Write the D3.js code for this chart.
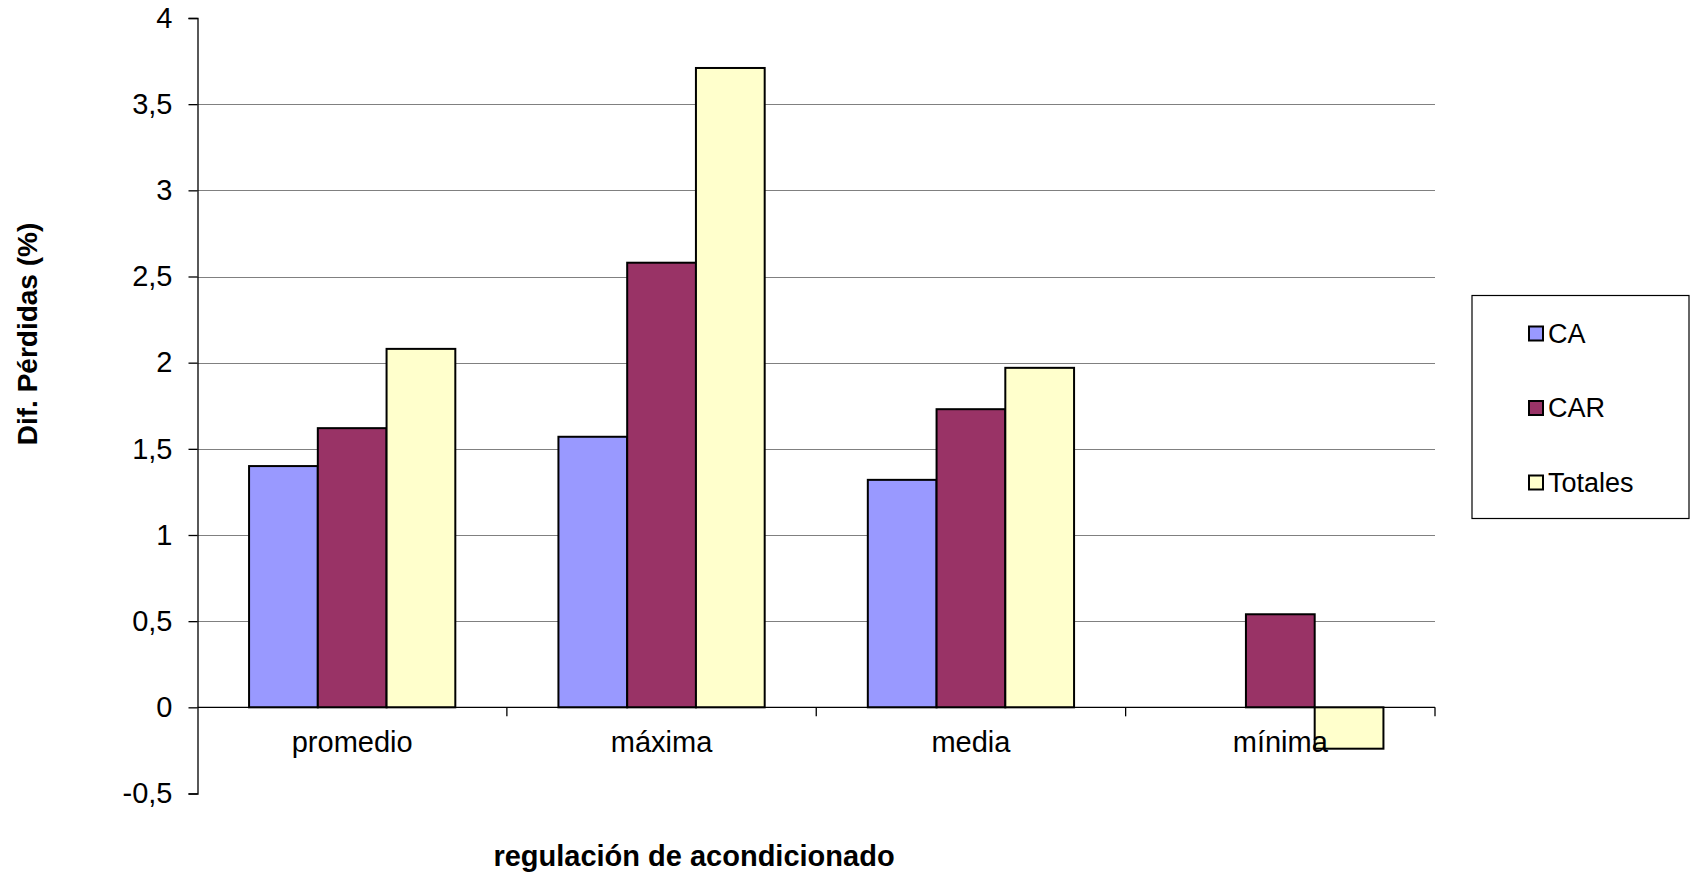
<!DOCTYPE html>
<html>
<head>
<meta charset="utf-8">
<script src="https://cdn.jsdelivr.net/npm/d3@7"></script>
<style>
  html, body { margin: 0; padding: 0; background: #fff; }
  svg { display: block; font-family: "Liberation Sans", Arial, sans-serif; }
</style>
</head>
<body>
<svg id="chart" width="1694" height="873"></svg>
<script>
const categories = ["promedio", "máxima", "media", "mínima"];
const seriesNames = ["CA", "CAR", "Totales"];
const valuesCA = [1.40, 1.57, 1.32, null];
const valuesCAR = [1.62, 2.58, 1.73, 0.54];
const valuesTotales = [2.08, 3.71, 1.97, -0.24];
const yTicks = [-0.5, 0, 0.5, 1, 1.5, 2, 2.5, 3, 3.5, 4];
const yTitle = "Dif. Pérdidas (%)";
const xTitle = "regulación de acondicionado";

(function () {
const seriesValues = [valuesCA, valuesCAR, valuesTotales];
const colors = ["#9999FF", "#993366", "#FFFFCC"];

const svg = d3.select("#chart");
const plotLeft = 197.5, plotRight = 1435, plotTop = 18, plotBottom = 793.5;

const x = d3.scaleBand().domain(categories).range([plotLeft, plotRight]).paddingInner(0).paddingOuter(0);
const xs = d3.scaleBand().domain(seriesNames).range([0, x.bandwidth()]).paddingInner(0).paddingOuter(0.75);
const y = d3.scaleLinear().domain([-0.5, 4]).range([plotBottom, plotTop]);
const fmt = d => String(d).replace(".", ",");

// gridlines
svg.append("g").selectAll("line")
  .data(yTicks.filter(t => t > 0 && t < 4))
  .join("line")
  .attr("x1", plotLeft).attr("x2", plotRight)
  .attr("y1", d => Math.round(y(d)) + 0.5).attr("y2", d => Math.round(y(d)) + 0.5)
  .attr("stroke", "#808080").attr("stroke-width", 1.2);

// bars
const data = [];
categories.forEach((c, i) => {
  seriesNames.forEach((s, j) => {
    const v = seriesValues[j][i];
    if (v !== null && v !== undefined) data.push({ c, s, v, color: colors[j] });
  });
});
svg.append("g").selectAll("rect")
  .data(data)
  .join("rect")
  .attr("x", d => x(d.c) + xs(d.s))
  .attr("width", xs.bandwidth())
  .attr("y", d => y(Math.max(0, d.v)))
  .attr("height", d => Math.abs(y(d.v) - y(0)))
  .attr("fill", d => d.color)
  .attr("stroke", "#000")
  .attr("stroke-width", 2);

// y axis
const yAxis = d3.axisLeft(y).tickValues(yTicks).tickFormat(fmt).tickSize(9).tickPadding(16);
const gy = svg.append("g").attr("transform", `translate(${plotLeft},0)`).call(yAxis);
gy.select(".domain").attr("stroke", "#000").attr("stroke-width", 1.3);
gy.selectAll(".tick line").attr("stroke", "#000").attr("stroke-width", 1.3);
gy.selectAll(".tick text").attr("font-size", 29).attr("fill", "#000")
  .attr("font-family", "Liberation Sans, Arial, sans-serif");

// x axis at zero
const gx = svg.append("g").attr("transform", `translate(0,${y(0)})`);
gx.append("line").attr("x1", plotLeft).attr("x2", plotRight).attr("y1", 0).attr("y2", 0)
  .attr("stroke", "#000").attr("stroke-width", 1.3);
gx.selectAll("line.tk")
  .data(categories)
  .join("line").attr("class", "tk")
  .attr("x1", d => x(d) + x.bandwidth()).attr("x2", d => x(d) + x.bandwidth())
  .attr("y1", 0).attr("y2", 9)
  .attr("stroke", "#000").attr("stroke-width", 1.3);
gx.selectAll("text")
  .data(categories)
  .join("text")
  .attr("x", d => x(d) + x.bandwidth() / 2)
  .attr("y", 45)
  .attr("text-anchor", "middle")
  .attr("font-size", 29)
  .attr("fill", "#000")
  .text(d => d);

// axis titles
svg.append("text")
  .attr("transform", "translate(37,334) rotate(-90)")
  .attr("text-anchor", "middle")
  .attr("font-size", 28).attr("font-weight", "bold")
  .text(yTitle);
svg.append("text")
  .attr("x", 694).attr("y", 866)
  .attr("text-anchor", "middle")
  .attr("font-size", 29).attr("font-weight", "bold")
  .text(xTitle);

// legend
const lg = svg.append("g");
lg.append("rect").attr("x", 1472).attr("y", 295.5).attr("width", 217).attr("height", 223)
  .attr("fill", "#fff").attr("stroke", "#000").attr("stroke-width", 1.2);
const legY = d3.scalePoint().domain(seriesNames).range([333.5, 482.5]);
const items = lg.selectAll("g.item").data(seriesNames).join("g").attr("class", "item");
items.append("rect")
  .attr("x", 1529).attr("y", d => legY(d) - 7)
  .attr("width", 14).attr("height", 14)
  .attr("fill", (d, i) => colors[i]).attr("stroke", "#000").attr("stroke-width", 2);
items.append("text")
  .attr("x", 1548).attr("y", d => legY(d) + 9)
  .attr("font-size", 27).attr("fill", "#000")
  .text(d => d);
})();
</script>
</body>
</html>
